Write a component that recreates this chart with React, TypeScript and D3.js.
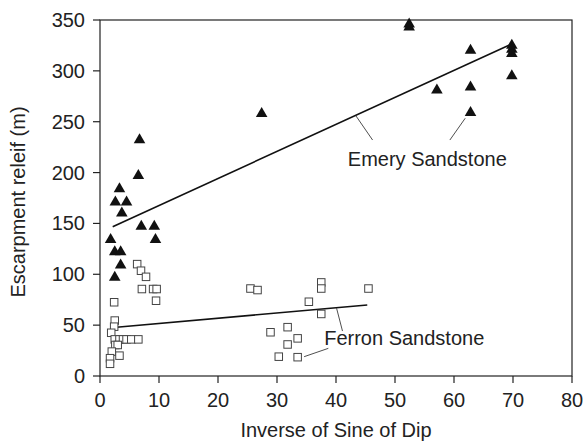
import * as d3 from "d3";

// ── Data ──────────────────────────────────────────────────
const emeryX = [6.7, 6.5, 3.3, 2.6, 4.5, 3.7, 7.0, 9.2, 1.8, 9.4, 2.5, 3.5, 3.5, 2.5,
  52.4, 52.4, 62.8, 69.8, 69.8, 69.8, 69.8, 57.1, 62.8, 62.8, 27.4];
const emeryY = [232, 197, 184, 171, 171, 160, 147, 147, 134, 134, 122, 122, 109, 97,
  346, 343, 320, 325, 321, 317, 295, 281, 284, 259, 258];

const ferronX = [25.5, 26.7, 37.5, 37.5, 45.5, 35.4, 37.5, 28.9, 31.8, 33.5, 31.8, 30.3, 33.5,
  2.4, 7.1, 9.0, 9.6, 9.5, 6.3, 6.95, 7.8,
  2.5, 2.4, 1.9,
  2.5, 3.3, 3.9, 4.5, 5.3, 6.5,
  2.6, 3.0, 2.0, 3.3, 1.7, 1.7];
const ferronY = [86, 84.5, 92, 86, 86, 73, 61, 43, 48, 37, 31, 19, 18.5,
  72.5, 85.5, 85.5, 85.5, 74, 110, 103.5, 97.5,
  54.5, 48.5, 42.5,
  36, 36, 36, 36, 36, 36,
  30.5, 30.5, 24, 20, 17.5, 12];

// regression line endpoints [x, y]
const emeryFit = [[2.15, 146.8], [69.4, 325.5]];
const ferronFit = [[2.8, 47.9], [45.3, 69.8]];

const xTicks = [0, 10, 20, 30, 40, 50, 60, 70, 80];
const yTicks = [0, 50, 100, 150, 200, 250, 300, 350];

// ── Layout ────────────────────────────────────────────────
const W = 584;
const H = 441;
const margin = { top: 20, right: 12, bottom: 65, left: 100 };
const innerW = W - margin.left - margin.right;
const innerH = H - margin.top - margin.bottom;
const FONT = "'Liberation Sans', Arial, sans-serif";
const FS = 20;

const x = d3.scaleLinear().domain([0, 80]).range([0, innerW]);
const y = d3.scaleLinear().domain([0, 350]).range([innerH, 0]);

const triangle = d3.symbol().type(d3.symbolTriangle).size(58);
const line = d3.line<number[]>().x(d => x(d[0])).y(d => y(d[1]));

export default function App() {
  return (
    <svg width={W} height={H} style={{ position: "absolute", left: 0, top: 0, background: "#fff" }}
      fontFamily={FONT}>
      <g transform={`translate(${margin.left},${margin.top})`}>
        {/* frame */}
        <rect x={0} y={0} width={innerW} height={innerH} fill="none" stroke="#222" strokeWidth={1.2} />

        {/* y ticks */}
        {yTicks.map(t => (
          <g key={t}>
            <line x1={-7} x2={0} y1={y(t)} y2={y(t)} stroke="#222" strokeWidth={1.2} />
            <text x={-15} y={y(t)} dy="0.35em" textAnchor="end" fontSize={FS} fill="#222">{t}</text>
          </g>
        ))}
        {/* x ticks */}
        {xTicks.map(t => (
          <g key={t}>
            <line x1={x(t)} x2={x(t)} y1={innerH} y2={innerH + 7} stroke="#222" strokeWidth={1.2} />
            <text x={x(t)} y={innerH + 31} textAnchor="middle" fontSize={FS} fill="#222">{t}</text>
          </g>
        ))}

        {/* fit lines */}
        <path d={line(emeryFit) ?? ""} stroke="#111" strokeWidth={1.6} fill="none" />
        <path d={line(ferronFit) ?? ""} stroke="#111" strokeWidth={1.6} fill="none" />

        {/* Ferron: open squares */}
        {ferronX.map((v, i) => (
          <rect key={"f" + i} x={x(v) - 3.75} y={y(ferronY[i]) - 3.75} width={7.5} height={7.5}
            fill="#fff" stroke="#444" strokeWidth={1} />
        ))}
        {/* Emery: filled triangles */}
        {emeryX.map((v, i) => (
          <path key={"e" + i} d={triangle() ?? ""} transform={`translate(${x(v)},${y(emeryY[i])})`}
            fill="#111" />
        ))}

        {/* annotations */}
        <line x1={x(43.4)} y1={y(255.6)} x2={x(46.2)} y2={y(232)} stroke="#222" strokeWidth={0.8} />
        <line x1={x(61.9)} y1={y(253.4)} x2={x(59.3)} y2={y(232)} stroke="#222" strokeWidth={0.8} />
        <text x={x(42)} y={y(206.5)} fontSize={FS} fill="#222">Emery Sandstone</text>

        <line x1={x(40.1)} y1={y(66.6)} x2={x(41.1)} y2={y(44.2)} stroke="#222" strokeWidth={0.8} />
        <line x1={x(38.7)} y1={y(27.2)} x2={x(34.6)} y2={y(19)} stroke="#222" strokeWidth={0.8} />
        <text x={x(38)} y={y(30.5)} fontSize={FS} fill="#222">Ferron Sandstone</text>

        {/* axis titles */}
        <text x={innerW / 2} y={innerH + 61} textAnchor="middle" fontSize={FS} fill="#222">
          Inverse of Sine of Dip
        </text>
        <text transform={`translate(${-75},${innerH / 2 + 4}) rotate(-90)`} textAnchor="middle"
          fontSize={FS} fill="#222">
          Escarpment releif (m)
        </text>
      </g>
    </svg>
  );
}
